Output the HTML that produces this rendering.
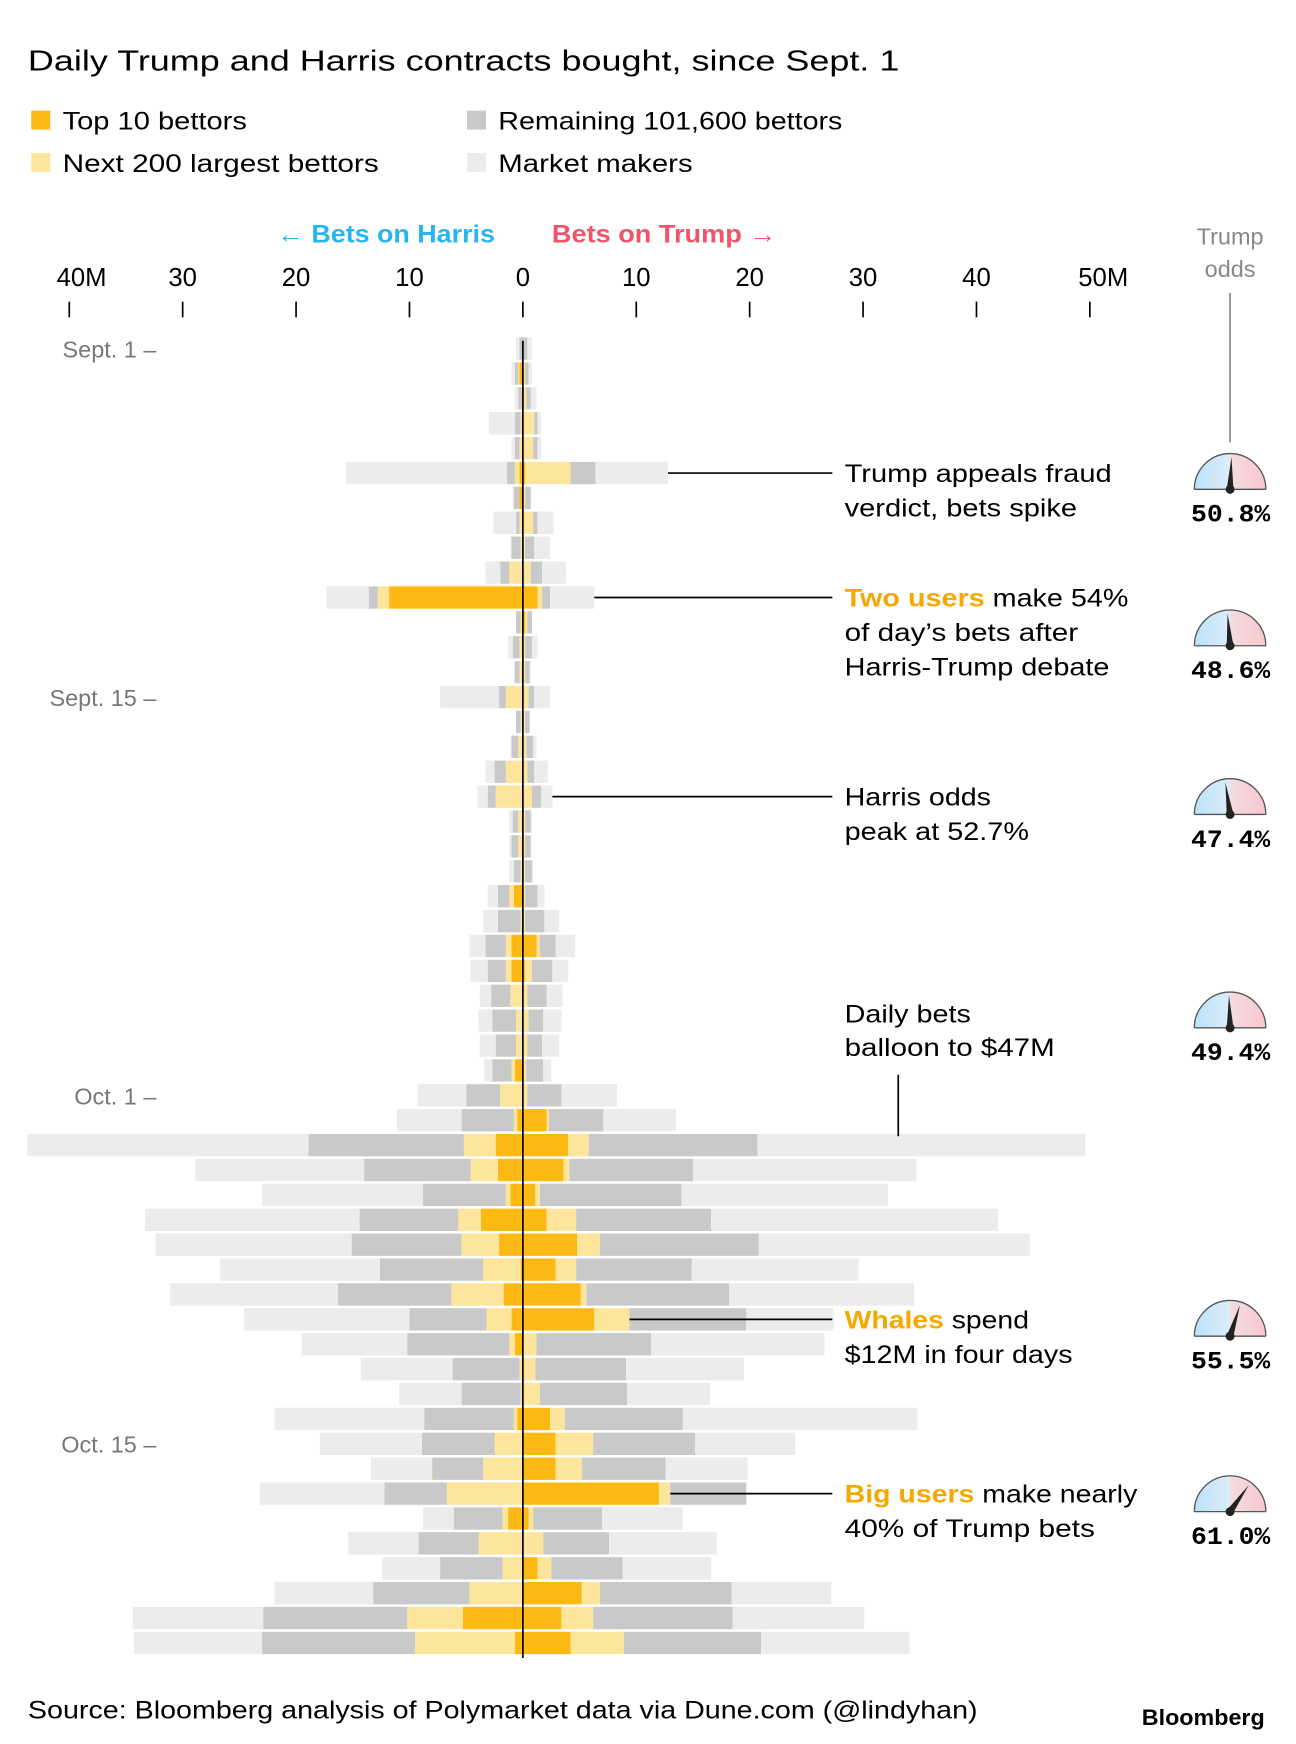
<!DOCTYPE html>
<html><head><meta charset="utf-8"><style>
html,body{margin:0;padding:0;background:#fff;}
svg{display:block;font-family:"Liberation Sans",Arial,sans-serif;}
</style></head><body>
<svg id="chart" width="1296" height="1744" viewBox="0 0 1160 1561" xmlns="http://www.w3.org/2000/svg">
<text x="25" y="63" font-size="26" fill="#000" textLength="780" lengthAdjust="spacingAndGlyphs">Daily Trump and Harris contracts bought, since Sept. 1</text>
<g font-size="22" fill="#000">
<rect x="28" y="99" width="17" height="17" fill="#fdb913"/>
<text x="56" y="116" textLength="165" lengthAdjust="spacingAndGlyphs">Top 10 bettors</text>
<rect x="28" y="137" width="17" height="17" fill="#fee59c"/>
<text x="56" y="154" textLength="283" lengthAdjust="spacingAndGlyphs">Next 200 largest bettors</text>
<rect x="418" y="99" width="17" height="17" fill="#c9c9c9"/>
<text x="446" y="116" textLength="308" lengthAdjust="spacingAndGlyphs">Remaining 101,600 bettors</text>
<rect x="418" y="137" width="17" height="17" fill="#ececec"/>
<text x="446" y="154" textLength="174" lengthAdjust="spacingAndGlyphs">Market makers</text>
</g>
<text x="248" y="217" font-size="22" font-weight="bold" fill="#27b5f0" textLength="195" lengthAdjust="spacingAndGlyphs">← Bets on Harris</text>
<text x="494" y="217" font-size="22" font-weight="bold" fill="#f05468" textLength="201" lengthAdjust="spacingAndGlyphs">Bets on Trump →</text>
<text x="1101" y="219" font-size="21" fill="#888" text-anchor="middle">Trump</text>
<text x="1101" y="248" font-size="21" fill="#888" text-anchor="middle">odds</text>
<line x1="1101" y1="262" x2="1101" y2="396" stroke="#888" stroke-width="1.5"/>
<g id="axis"></g><g id="bars"></g><g id="annot"></g><g id="gauges"></g>
<text x="25" y="1538" font-size="22" fill="#000" textLength="850" lengthAdjust="spacingAndGlyphs">Source: Bloomberg analysis of Polymarket data via Dune.com (@lindyhan)</text>
<text x="1022" y="1544" font-size="20" font-weight="bold" fill="#000" textLength="110" lengthAdjust="spacingAndGlyphs">Bloomberg</text>
</svg>
<script>
const NS="http://www.w3.org/2000/svg";
// values in millions, per day Sept 1..Oct 23: [top10, next200, remaining, marketMakers]
const harrisTop=[0,0.3,0,0,0,0.3,0.3,0,0,0,11.8,0,0,0,0,0,0,0,0,0,0,0,0.8,0,1.0,1.0,0,0,0,0.7,0,0.5,2.4,2.2,1.1,3.7,2.1,0.2,1.7,1.0,0.7,0,0,0.5,0,0,0,1.3,0,0,0,5.3,0.7];
const harrisNext=[0,0.1,0.1,0.2,0.3,0.4,0,0.3,0.2,1.2,1.0,0.2,0.3,0.3,1.5,0.2,0.4,1.5,2.4,0.4,0.4,0.2,0.4,0.2,0.5,0.5,1.1,0.6,0.6,0.3,2.0,0.3,2.8,2.4,0.4,2.0,3.3,3.3,4.6,2.2,0.5,0.3,0.2,0.3,2.5,3.5,6.7,0.5,3.9,1.8,4.7,4.9,8.8];
const harrisRem=[0.3,0.3,0.3,0.5,0.4,0.7,0.5,0.3,0.8,0.8,0.8,0.4,0.6,0.4,0.6,0.4,0.6,1.0,0.7,0.5,0.6,0.6,1.0,2.0,1.8,1.6,1.7,2.1,1.8,1.7,3.0,4.6,13.7,9.4,7.3,8.7,9.7,9.1,10.0,6.8,9.0,5.9,5.2,7.9,6.4,4.5,5.5,4.3,5.3,5.5,8.5,12.7,13.5];
const harrisMM=[0.3,0.3,0.3,2.3,0.3,14.2,0.1,2.0,0.1,1.3,3.7,0,0.4,0.1,5.2,0,0.1,0.8,0.9,0.3,0.2,0.4,0.9,1.3,1.4,1.5,1.0,1.2,1.4,0.7,4.3,5.7,24.8,14.9,14.2,18.9,17.3,14.1,14.8,14.6,9.3,8.1,5.5,13.2,9.0,5.4,11.0,2.7,6.2,5.1,8.7,11.5,11.3];
const trumpTop=[0,0.1,0.1,0,0,0.2,0,0,0,0,1.3,0.2,0,0,0,0,0,0,0,0,0,0,0,0,1.2,0.2,0,0,0,0,0,2.1,4.0,3.6,1.1,2.1,4.8,2.9,5.1,6.3,0,0,0,2.4,2.9,2.9,12.0,0.5,0,1.3,5.2,3.4,4.2];
const trumpNext=[0,0.1,0.2,1.0,0.9,4.0,0.2,0.9,0.2,0.7,0.4,0.2,0.2,0.2,0.5,0.2,0.3,0.4,0.8,0.2,0.2,0.2,0.2,0.2,0.3,0.6,0.4,0.5,0.4,0.3,0.4,0.2,1.8,0.5,0.4,2.6,2.0,1.8,0.5,3.1,1.2,1.1,1.5,1.3,3.3,2.3,1.0,0.4,1.8,1.2,1.6,2.8,4.7];
const trumpRem=[0.4,0.3,0.4,0.3,0.4,2.2,0.5,0.4,0.8,1.0,0.7,0.4,0.6,0.4,0.5,0.4,0.6,0.6,0.8,0.5,0.5,0.6,1.1,1.7,1.4,1.8,1.7,1.3,1.3,1.5,3.0,4.8,14.9,10.9,12.5,11.9,14.0,10.2,12.6,10.3,10.1,8.0,7.7,10.4,9.0,7.4,6.7,6.1,5.8,6.3,11.6,12.3,12.1];
const trumpMM=[0.4,0.3,0.5,0.3,0.3,6.4,0,1.4,1.4,2.1,3.9,0,0.5,0.1,1.4,0,0.3,1.2,1.0,0.1,0,0.1,0.6,1.3,1.7,1.4,1.4,1.6,1.5,0.7,4.9,6.4,28.9,19.7,18.2,25.3,23.9,14.7,16.3,7.7,15.3,10.4,7.3,20.7,8.8,7.2,0,7.1,9.5,7.8,8.8,11.6,13.1];
const tickValues=[40,30,20,10,0,10,20,30,40,50];
const tickLabels=["40M","30","20","10","0","10","20","30","40","50M"];
const dateLabels=[{day:0,text:"Sept. 1 –"},{day:14,text:"Sept. 15 –"},{day:30,text:"Oct. 1 –"},{day:44,text:"Oct. 15 –"}];
const oddsDays=[5,11,18,27,39,46];
const oddsValues=[50.8,48.6,47.4,49.4,55.5,61.0];

const X0=468, PXM=10.15, Y0=312, DY=22.28, BH=20;
const xR=v=>X0+v*PXM, xL=v=>X0-v*PXM, yDay=d=>Y0+d*DY;
function mk(tag,attrs,parent){const e=document.createElementNS(NS,tag);for(const k in attrs)e.setAttribute(k,attrs[k]);parent.appendChild(e);return e;}

const axis=document.getElementById('axis');
tickValues.forEach((v,i)=>{
  const x = i<4 ? xL(v) : xR(v);
  const lx = i===0 ? x+11 : (i===9 ? x+12 : x);
  const t=mk('text',{x:lx,y:256,'font-size':23,'text-anchor':'middle',fill:'#000'},axis);
  t.textContent=tickLabels[i];
  
  
  const l=mk('line',{x1:x,y1:270,x2:x,y2:284,stroke:'#000','stroke-width':1.5},axis);
  
  
});
dateLabels.forEach(d=>{
  const t=mk('text',{x:140,y:yDay(d.day)+8,'font-size':21,'text-anchor':'end',fill:'#777'},axis);
  t.textContent=d.text;
  
  
});

const bars=document.getElementById('bars');
const colors=['#fdb913','#fee59c','#c9c9c9','#ececec'];
const segNames=['top10','next200','remaining','market-makers'];
for(let d=0; d<harrisTop.length; d++){
  const y=yDay(d)-BH/2;
  const h=[harrisTop[d],harrisNext[d],harrisRem[d],harrisMM[d]];
  const t=[trumpTop[d],trumpNext[d],trumpRem[d],trumpMM[d]];
  let c=0;
  h.forEach((v,k)=>{ if(v>0){const r=mk('rect',{x:xL(c+v),y:y,width:v*PXM,height:BH,fill:colors[k]},bars);
    
    } c+=v; });
  c=0;
  t.forEach((v,k)=>{ if(v>0){const r=mk('rect',{x:xR(c),y:y,width:v*PXM,height:BH,fill:colors[k]},bars);
    
    } c+=v; });
}
const zl=mk('line',{x1:X0,y1:305,x2:X0,y2:1484,stroke:'#000','stroke-width':1.5},bars);



// annotations
const annot=document.getElementById('annot');
const notes=[
 {day:5, lines:[["","Trump appeals fraud",239],["","verdict, bets spike",208]]},
 {day:10, lines:[["Two users"," make 54%",254],["","of day’s bets after",209],["","Harris-Trump debate",237]]},
 {day:18, lines:[["","Harris odds",131],["","peak at 52.7%",165]]},
 {day:39, lines:[["Whales"," spend",165],["","$12M in four days",204]]},
 {day:46, lines:[["Big users"," make nearly",262],["","40% of Trump bets",224]]}
];
notes.forEach(n=>{
  const y=yDay(n.day);
  const total=trumpTop[n.day]+trumpNext[n.day]+(n.day===39||n.day===46?0:trumpRem[n.day]+trumpMM[n.day]);
  const ln=mk('line',{x1:xR(total),y1:y,x2:745,y2:y,stroke:'#000','stroke-width':1.5},annot);
  
  
  n.lines.forEach((l,i)=>{
    const t=mk('text',{x:756,y:y+8+i*31,'font-size':22,fill:'#000',textLength:l[2],lengthAdjust:'spacingAndGlyphs'},annot);
    
    
    if(l[0]){const s=mk('tspan',{fill:'#f5a800','font-weight':'bold'},t);s.textContent=l[0];}
    const s2=mk('tspan',{},t);s2.textContent=l[1];
  });
});
const bt=mk('text',{x:756,y:915,'font-size':22,fill:'#000',textLength:113,lengthAdjust:'spacingAndGlyphs'},annot);bt.textContent='Daily bets';


const bt2=mk('text',{x:756,y:945,'font-size':22,fill:'#000',textLength:188,lengthAdjust:'spacingAndGlyphs'},annot);bt2.textContent='balloon to $47M';


const vl=mk('line',{x1:804,y1:962,x2:804,y2:1017,stroke:'#000','stroke-width':1.5},annot);



// gauges
const svg=document.getElementById('chart');
const defs=mk('defs',{},svg);
const gb=mk('linearGradient',{id:'gblue',x1:0,y1:0,x2:1,y2:0},defs);
mk('stop',{offset:'0','stop-color':'#b9e3fb'},gb);mk('stop',{offset:'1','stop-color':'#dcecf8'},gb);
const gp=mk('linearGradient',{id:'gpink',x1:0,y1:0,x2:1,y2:0},defs);
mk('stop',{offset:'0','stop-color':'#f3dce2'},gp);mk('stop',{offset:'1','stop-color':'#f8c7cf'},gp);
const gg=document.getElementById('gauges');
const gaugeY=[438,578,729,920,1196,1353];
oddsDays.forEach((d,i)=>{
  const cy=gaugeY[i];
  const cx=1101, r=32;
  const g=mk('g',{},gg);
  
  
  mk('path',{d:`M${cx-r},${cy} A${r},${r} 0 0 1 ${cx},${cy-r} L${cx},${cy} Z`,fill:'url(#gblue)'},g);
  mk('path',{d:`M${cx},${cy-r} A${r},${r} 0 0 1 ${cx+r},${cy} L${cx},${cy} Z`,fill:'url(#gpink)'},g);
  mk('path',{d:`M${cx-r},${cy} A${r},${r} 0 0 1 ${cx+r},${cy}`,fill:'none',stroke:'#555','stroke-width':1.2},g);
  mk('line',{x1:cx-r,y1:cy,x2:cx+r,y2:cy,stroke:'#555','stroke-width':1.2},g);
  const a=(oddsValues[i]-50)*3.2*Math.PI/180;
  const nx=cx+Math.sin(a)*(r-3), ny=cy-Math.cos(a)*(r-3);
  const px=Math.cos(a)*3, py=Math.sin(a)*3;
  mk('polygon',{points:`${nx},${ny} ${cx-px},${cy-py} ${cx+px},${cy+py}`,fill:'#222'},g);
  mk('circle',{cx:cx,cy:cy,r:4,fill:'#222'},g);
  const t=mk('text',{x:1066,y:cy+29,'font-size':22,'font-weight':'bold','font-family':'"Liberation Mono",monospace',fill:'#000',textLength:71,lengthAdjust:'spacingAndGlyphs'},g);
  t.textContent=oddsValues[i].toFixed(1)+'%';
  
  
});
</script>
</body></html>
